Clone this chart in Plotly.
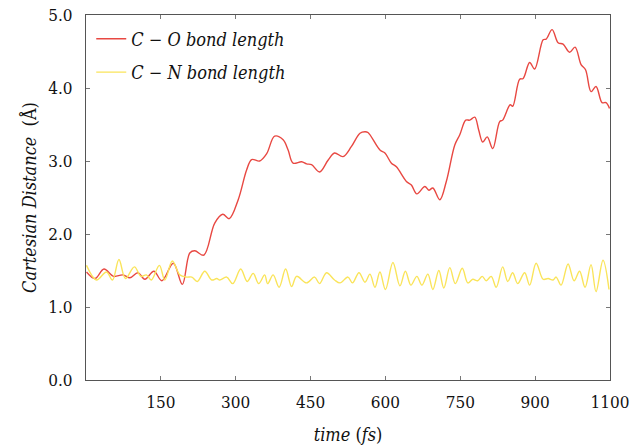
import plotly.graph_objects as go

# C-O bond length (red)
co_t = [1, 18, 36, 55, 74, 88, 104, 118, 136, 152, 175, 193, 208, 218, 236, 258, 274, 287, 305,
        322, 332, 348, 362, 378, 395, 405, 415, 432, 442, 452, 468, 485, 498, 515, 532, 549,
        559, 565, 589, 599, 612, 622, 642, 652, 663, 679, 687, 695, 709, 722, 739, 749, 761,
        769, 779, 787, 795, 804, 815, 829, 835, 850, 855, 869, 876, 889, 899, 916, 922, 934,
        946, 956, 969, 980, 992, 1001, 1012, 1022, 1034, 1042, 1049]
co_v = [1.48, 1.39, 1.52, 1.42, 1.44, 1.40, 1.47, 1.38, 1.49, 1.36, 1.60, 1.31, 1.74, 1.77, 1.71,
        2.15, 2.27, 2.21, 2.47, 2.88, 3.02, 3.00, 3.10, 3.34, 3.29, 3.15, 2.97, 2.99, 2.96, 2.95,
        2.85, 3.01, 3.11, 3.06, 3.20, 3.38, 3.40, 3.39, 3.15, 3.11, 2.97, 2.92, 2.72, 2.67, 2.55,
        2.65, 2.60, 2.63, 2.47, 2.72, 3.22, 3.36, 3.56, 3.56, 3.60, 3.42, 3.26, 3.33, 3.17, 3.54,
        3.56, 3.77, 3.75, 4.12, 4.13, 4.35, 4.26, 4.66, 4.67, 4.80, 4.62, 4.60, 4.49, 4.56, 4.32,
        4.25, 3.95, 4.02, 3.80, 3.80, 3.72]

# C-N bond length (yellow)
cn_t = [1, 21, 41, 53, 66, 79, 97, 110, 121, 131, 147, 158, 173, 188, 202, 212, 223, 238, 252,
        262, 268, 282, 294, 310, 323, 335, 346, 358, 364, 375, 387, 400, 412, 422, 442, 458,
        468, 482, 498, 509, 525, 534, 547, 559, 569, 579, 589, 600, 615, 629, 640, 651, 663,
        673, 685, 695, 707, 717, 729, 740, 754, 765, 775, 785, 794, 802, 812, 822, 835, 845,
        855, 865, 879, 889, 902, 916, 926, 936, 942, 952, 966, 978, 989, 1000, 1012, 1022,
        1036, 1048]
cn_v = [1.57, 1.37, 1.48, 1.37, 1.65, 1.39, 1.55, 1.42, 1.44, 1.37, 1.57, 1.37, 1.63, 1.44, 1.41,
        1.41, 1.35, 1.49, 1.37, 1.39, 1.37, 1.41, 1.32, 1.52, 1.35, 1.46, 1.32, 1.44, 1.32, 1.44,
        1.27, 1.52, 1.28, 1.42, 1.33, 1.41, 1.32, 1.47, 1.37, 1.33, 1.41, 1.33, 1.47, 1.34, 1.45,
        1.27, 1.48, 1.24, 1.61, 1.29, 1.49, 1.30, 1.42, 1.30, 1.45, 1.24, 1.50, 1.26, 1.54, 1.32,
        1.53, 1.33, 1.38, 1.36, 1.42, 1.36, 1.42, 1.27, 1.55, 1.35, 1.47, 1.32, 1.47, 1.30, 1.60,
        1.38, 1.39, 1.37, 1.41, 1.30, 1.59, 1.36, 1.49, 1.27, 1.58, 1.21, 1.64, 1.24]

x_tickvals = [150, 300, 450, 600, 750, 900, 1050]
x_ticktext = ["150", "300", "450", "600", "750", "900", "1100"]
y_tickvals = [0, 1, 2, 3, 4, 5]

FONT = "'DejaVu Serif Condensed', 'DejaVu Serif', serif"

fig = go.Figure()
fig.add_trace(go.Scatter(x=co_t, y=co_v, mode="lines", name="<i>C − O bond length</i>",
                         legendgroup="co",
                         line=dict(color="rgb(232,72,66)", width=1.4, shape="spline", smoothing=1.0)))
fig.add_trace(go.Scatter(x=cn_t, y=cn_v, mode="lines", name="<i>C − N bond length</i>",
                         legendgroup="cn",
                         line=dict(color="rgb(250,228,90)", width=1.4, shape="spline", smoothing=1.0)))

axis_common = dict(showgrid=False, zeroline=False, showline=True, linecolor="#555555", linewidth=1.2,
                   mirror="ticks", ticks="inside", ticklen=4, tickcolor="#777777", automargin=False,
                   tickfont=dict(family=FONT, size=17, color="#111111"))

fig.update_layout(
    width=631, height=446,
    margin=dict(l=86, r=21, t=15, b=66),
    paper_bgcolor="white", plot_bgcolor="white",
    font=dict(family=FONT, color="#111111"),
    showlegend=True,
    legend=dict(x=0.01, y=0.985, xanchor="left", yanchor="top",
                font=dict(family=FONT, size=18, color="#111111"),
                bgcolor="rgba(255,255,255,0)", tracegroupgap=7, traceorder="grouped"),
    xaxis=dict(range=[0, 1050], tickvals=x_tickvals, ticktext=x_ticktext,
               title=dict(text="<i>time</i> (<i>fs</i>)", font=dict(family=FONT, size=18), standoff=17),
               ticklabelstandoff=6,
               **axis_common),
    yaxis=dict(range=[0, 5], tickvals=y_tickvals, tickformat=".1f",
               title=dict(text="<i>Cartesian Distance</i>&nbsp;&nbsp;(Å)", font=dict(family=FONT, size=18), standoff=6),
               ticklabelstandoff=9,
               **axis_common),
)

fig.write_html("out.html")
